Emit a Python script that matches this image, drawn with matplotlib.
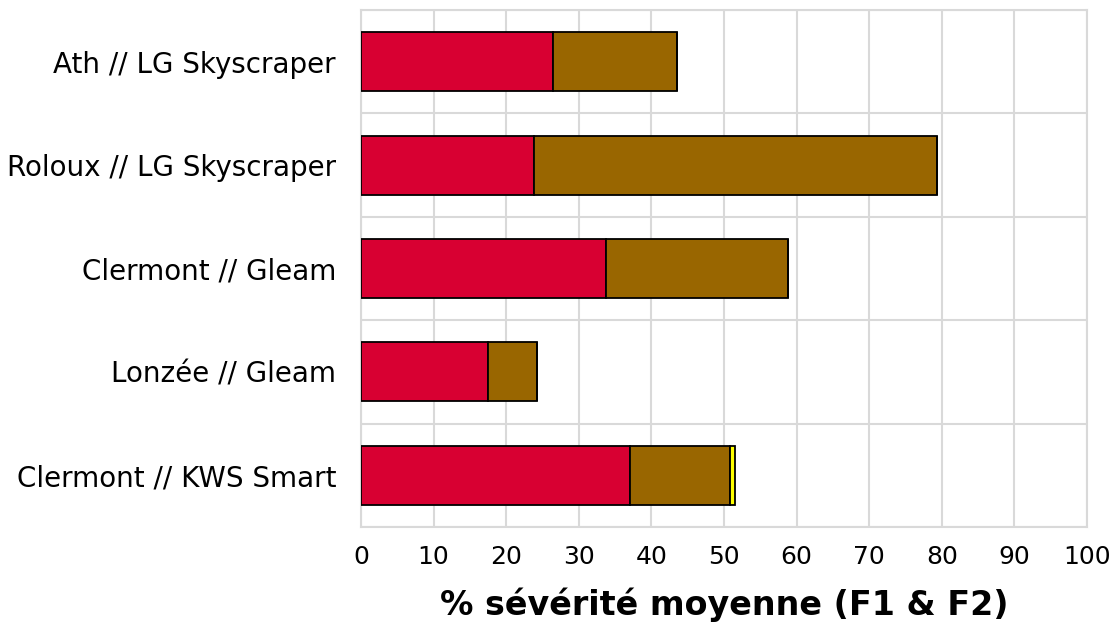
import numpy as np
import matplotlib
matplotlib.use("Agg")
from matplotlib import pyplot as plt

sites = ["Ath // LG Skyscraper", "Roloux // LG Skyscraper", "Clermont // Gleam",
         "Lonzée // Gleam", "Clermont // KWS Smart"]
red_part = [26.4, 23.8, 33.7, 17.5, 37.0]
brown_part = [17.1, 55.5, 25.1, 6.7, 13.8]
yellow_part = [0.0, 0.0, 0.0, 0.0, 0.7]
colours = ["#D80032", "#996600", "#FFFF00"]
xticks = np.arange(0, 101, 10)

fig = plt.figure(figsize=(11.16, 6.24), dpi=100)
ax = fig.add_axes([0.3235, 0.1554, 0.6505, 0.8286])

y = np.arange(len(sites))
left = np.zeros(len(sites))
for vals, col in zip([red_part, brown_part, yellow_part], colours):
    vals = np.array(vals)
    ax.barh(y, vals, left=left, height=0.57, color=col, edgecolor="black",
            linewidth=1.3, zorder=3)
    left += vals

ax.set_xlim(0, 100)
ax.set_ylim(len(sites) - 0.5, -0.5)
ax.set_xticks(xticks)
ax.set_xticklabels([str(t) for t in xticks], fontsize=18)
ax.set_yticks(y)
ax.set_yticklabels(sites, fontsize=20)
ax.set_yticks(np.arange(-0.5, len(sites), 1), minor=True)
ax.tick_params(axis="both", which="both", length=0)
ax.tick_params(axis="x", pad=13)
ax.tick_params(axis="y", pad=18)
ax.grid(True, axis="x", which="major", color="#D9D9D9", linewidth=1.5, zorder=0)
ax.grid(True, axis="y", which="minor", color="#D9D9D9", linewidth=1.5, zorder=0)
for s in ax.spines.values():
    s.set_color("#D9D9D9")
    s.set_linewidth(1.5)

ax.set_xlabel("% sévérité moyenne (F1 & F2)", fontsize=24, fontweight="bold",
              labelpad=13)

plt.savefig("out.png", dpi=100)
